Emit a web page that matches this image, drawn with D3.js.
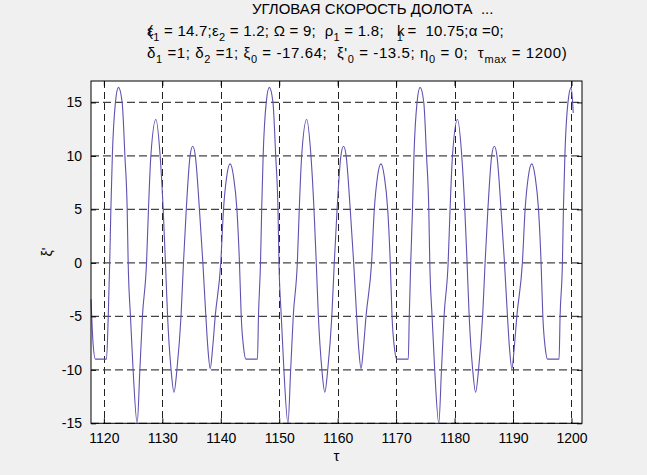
<!DOCTYPE html>
<html><head><meta charset="utf-8">
<script src="https://cdn.jsdelivr.net/npm/d3@7"></script>
<style>
html,body{margin:0;padding:0;background:#f0f0f0;}
svg{display:block;}
text{font-family:"Liberation Sans",Arial,sans-serif;white-space:pre;}
</style></head><body>
<svg id="chart" width="647" height="475"></svg>
<script>
// ---- data ----
const xTicks = [1120,1130,1140,1150,1160,1170,1180,1190,1200];
const yTicks = [-15,-10,-5,0,5,10,15];
const xDomain = [1117.8, 1201.8];
const yDomain = [-15, 17];

const tauStart = [1117.8, 1118.15, 1118.55, 1120.45, 1120.75];
const xiStart  = [-3.4, -7.5, -9, -9, -5];

const tauCycle1 = [1121.0,1121.2,1121.45,1121.98,1122.5,1123.13,1123.6,1123.99,1124.16,1124.55,
  1125.0,1125.7,1126.16,1126.6,1127.3,1127.63,1128.04,1128.9,1129.63,1130.15,
  1130.54,1130.9,1131.5,1132.0,1132.5,1133.2,1133.62,1134.1,1134.75,1135.2,
  1135.65,1136.35,1136.94,1137.45,1137.8,1138.2,1138.6,1139.05,1140.0,1140.47,
  1141.0,1141.6,1142.2,1142.76,1143.2,1143.5,1143.92,1144.3,1146.28,1146.45];
const xiCycle1 = [0,5,10,15,16.4,15,10,5,0,-5,
  -10,-15,-10,-5,0,5,10,13.4,10,5,
  0,-5,-10,-12.1,-10,-5,0,5,10,10.9,
  10,5,0,-5,-8,-9.9,-8,-5,0,5,
  8,9.25,8,5,0,-5,-8,-9,-9,-5];

const tauCycle2 = [1146.8,1147.0,1147.25,1147.78,1148.3,1148.93,1149.4,1149.79,1149.96,1150.35,
  1150.8,1151.5,1151.96,1152.4,1153.1,1153.43,1153.84,1154.7,1155.43,1155.95,
  1156.34,1156.7,1157.3,1157.8,1158.3,1159.0,1159.42,1159.9,1160.55,1161.0,
  1161.45,1162.15,1162.74,1163.25,1163.6,1164.0,1164.4,1164.85,1165.8,1166.27,
  1166.8,1167.4,1168.0,1168.56,1169.0,1169.3,1169.72,1170.1,1172.08,1172.25];
const xiCycle2 = [0,5,10,15,16.4,15,10,5,0,-5,
  -10,-15,-10,-5,0,5,10,13.4,10,5,
  0,-5,-10,-12.1,-10,-5,0,5,10,10.9,
  10,5,0,-5,-8,-9.9,-8,-5,0,5,
  8,9.25,8,5,0,-5,-8,-9,-9,-5];

const tauCycle3 = [1172.5,1172.8,1173.05,1173.58,1174.1,1174.73,1175.2,1175.59,1175.76,1176.15,
  1176.6,1177.3,1177.76,1178.2,1178.9,1179.23,1179.64,1180.5,1181.23,1181.75,
  1182.14,1182.5,1183.1,1183.6,1184.1,1184.8,1185.22,1185.7,1186.35,1186.8,
  1187.25,1187.95,1188.54,1189.05,1189.4,1189.8,1190.2,1190.65,1191.6,1192.07,
  1192.6,1193.2,1193.8,1194.36,1194.8,1195.1,1195.52,1195.9,1197.88,1198.05];
const xiCycle3 = [0,5,10,15,16.4,15,10,5,0,-5,
  -10,-15,-10,-5,0,5,10,13.4,10,5,
  0,-5,-10,-12.1,-10,-5,0,5,10,10.9,
  10,5,0,-5,-8,-9.9,-8,-5,0,5,
  8,9.25,8,5,0,-5,-8,-9,-9,-5];

const tauEnd = [1198.45,1198.62,1198.87,1199.4,1199.95,1200.3];
const xiEnd  = [0,5,10,15,16.4,14];

const titleLine1 = "УГЛОВАЯ СКОРОСТЬ ДОЛОТА  ...";
// [text, isSubscript, dx]
const titleLine2 = [["ε",0,0],["(",0,-6],["1",1,0],[" = 14.7;ε",0,0],["2",1,0],[" = 1.2; Ω = 9;  ρ",0,0],["1",1,0],
  [" = 1.8;   k",0,0],["1",1,-8],[" =  10.75;α =0;",0,0]];
const titleLine3 = [["δ",0,0],["1",1,0],[" =1; δ",0,0],["2",1,0],[" =1; ξ",0,0],["0",1,0],[" = -17.64;  ξ'",0,0],["0",1,0],
  [" = -13.5; η",0,0],["0",1,0],[" = 0;  τ",0,0],["max",1,0],[" = 1200)",0,0]];
const xLabel = "τ";
const yLabel = "ξ'";

// ---- drawing ----
const svg = d3.select("#chart");
const L = 91, R = 582, T = 81, B = 423.3;
const x = d3.scaleLinear().domain(xDomain).range([L, R]);
const y = d3.scaleLinear().domain(yDomain).range([B, T]);

svg.append("rect").attr("x",L).attr("y",T).attr("width",R-L).attr("height",B-T).attr("fill","#fff");

// grid
const g = svg.append("g");
g.selectAll(".gx").data(xTicks).join("line")
  .attr("x1",d=>Math.round(x(d))+0.5).attr("x2",d=>Math.round(x(d))+0.5)
  .attr("y1",T).attr("y2",B)
  .attr("stroke","#222").attr("stroke-width",1).attr("stroke-dasharray","7,4");
g.selectAll(".gy").data(yTicks).join("line")
  .attr("x1",L).attr("x2",R)
  .attr("y1",d=>y(d)).attr("y2",d=>y(d))
  .attr("stroke","#444").attr("stroke-width",1.2).attr("stroke-dasharray","8,4");

// data line
const pts = [];
[[tauStart,xiStart],[tauCycle1,xiCycle1],[tauCycle2,xiCycle2],[tauCycle3,xiCycle3],[tauEnd,xiEnd]]
  .forEach(([ta,xa]) => ta.forEach((t,i)=>pts.push([t,xa[i]])));
const line = d3.line().x(d=>x(d[0])).y(d=>y(d[1])).curve(d3.curveMonotoneX);
svg.append("path").datum(pts).attr("d",line)
  .attr("fill","none").attr("stroke","#6150b0").attr("stroke-width",1.1);

// axes (box with inward ticks)
const tickLen = 5;
const fmt = d => String(d);
const axB = d3.axisBottom(x).tickValues(xTicks).tickSizeInner(-tickLen).tickSizeOuter(0).tickPadding(10).tickFormat(fmt);
const axT = d3.axisTop(x).tickValues(xTicks).tickSizeInner(-tickLen).tickSizeOuter(0).tickFormat("");
const axLft = d3.axisLeft(y).tickValues(yTicks).tickSizeInner(-tickLen).tickSizeOuter(0).tickPadding(9).tickFormat(fmt);
const axRt = d3.axisRight(y).tickValues(yTicks).tickSizeInner(-tickLen).tickSizeOuter(0).tickFormat("");
function styleAx(sel){
  sel.select(".domain").remove();
  sel.selectAll("line").attr("stroke","#000");
  sel.selectAll("text").attr("fill","#000").style("font-size","14px").style("font-family","'Liberation Sans',Arial,sans-serif");
}
svg.append("g").attr("transform",`translate(0,${B})`).call(axB).call(styleAx);
svg.append("g").attr("transform",`translate(0,${T})`).call(axT).call(styleAx);
svg.append("g").attr("transform",`translate(${L},0)`).call(axLft).call(styleAx);
svg.append("g").attr("transform",`translate(${R},0)`).call(axRt).call(styleAx);
svg.append("rect").attr("x",L).attr("y",T).attr("width",R-L).attr("height",B-T)
  .attr("fill","none").attr("stroke","#000").attr("stroke-width",1);

// labels
svg.append("text").attr("x",(L+R)/2).attr("y",461).attr("text-anchor","middle")
  .style("font-size","15px").text(xLabel);
svg.append("text").attr("transform",`translate(52,${(T+B)/2}) rotate(-90)`).attr("text-anchor","middle")
  .style("font-size","14px").text(yLabel);

// title
svg.append("text").attr("x",252).attr("y",14).style("font-size","15px").text(titleLine1);
function titleRow(segs, x0, y0, ls){
  const t = svg.append("text").attr("x",x0).attr("y",y0).style("font-size","15px")
    .style("letter-spacing",ls+"px");
  let prevSub = 0;
  segs.forEach(([s,sub,dx])=>{
    const sp = t.append("tspan").text(s);
    let dy = 0;
    if (sub && !prevSub) dy = 5; else if (!sub && prevSub) dy = -5;
    if (dy) sp.attr("dy",dy);
    if (dx) sp.attr("dx",dx);
    if (sub) sp.style("font-size","11px");
    prevSub = sub;
  });
}
titleRow(titleLine2, 147, 36, 0.25);
titleRow(titleLine3, 147, 58, 0.6);
</script>
</body></html>
